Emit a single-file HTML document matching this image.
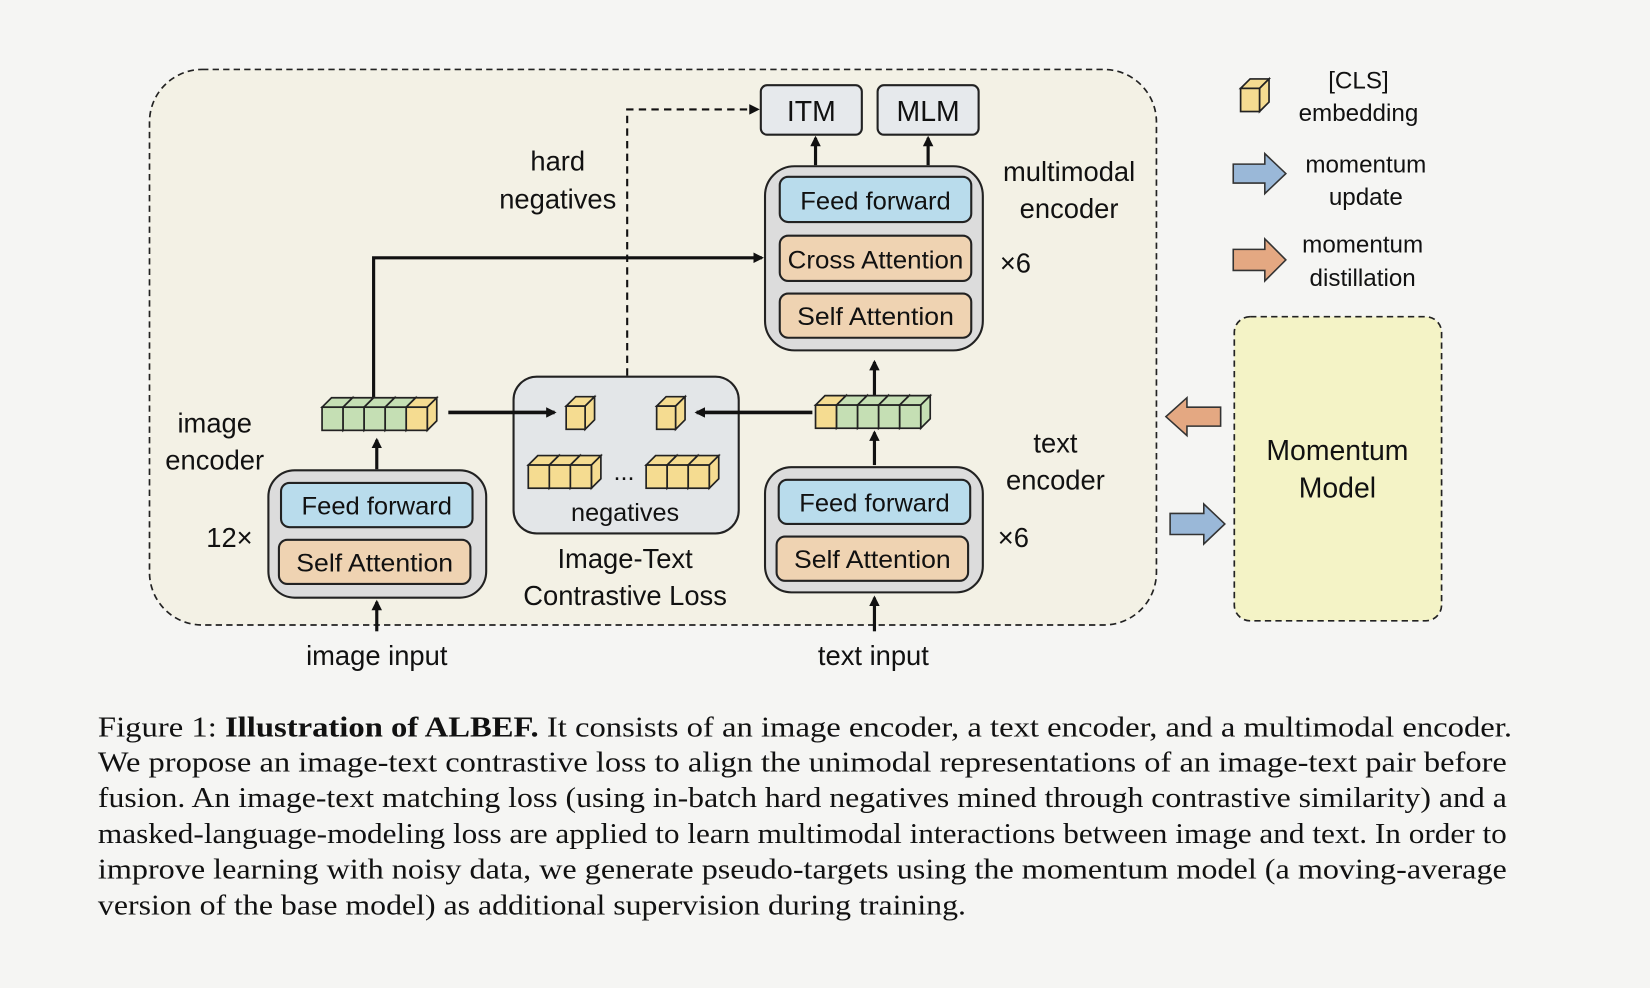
<!DOCTYPE html>
<html><head><meta charset="utf-8"><style>
html,body{margin:0;padding:0;background:#f5f5f3;}
svg{display:block}
.l{font-family:"Liberation Sans",sans-serif;font-size:24px;fill:#111;text-anchor:middle}
.c{font-family:"Liberation Serif",serif;font-size:27px;fill:#111}
</style></head><body>
<svg id="s" width="1650" height="988" viewBox="0 0 1568 939" xmlns="http://www.w3.org/2000/svg">
<defs>
<marker id="a" markerWidth="10" markerHeight="10" refX="8" refY="5" orient="auto" markerUnits="userSpaceOnUse"><path d="M0,0 L10,5 L0,10 Z" fill="#111"/></marker>
</defs>
<rect width="1568" height="939" fill="#f5f5f3"/>
<rect x="142" y="66" width="957" height="528" rx="50" fill="#f3f1e5" stroke="#222" stroke-width="1.6" stroke-dasharray="6,4"/>
<rect x="723" y="81" width="96" height="47" rx="6" fill="#e6e9ec" stroke="#222" stroke-width="2"/>
<rect x="834" y="81" width="96" height="47" rx="6" fill="#e6e9ec" stroke="#222" stroke-width="2"/>
<text class="l" x="771" y="115" style="font-size:27px">ITM</text>
<text class="l" x="882" y="115" style="font-size:27px">MLM</text>
<rect x="727" y="158" width="207" height="175" rx="28" fill="#dcdcdc" stroke="#222" stroke-width="2"/>
<rect x="741" y="168" width="182" height="43" rx="8" fill="#b9dcec" stroke="#222" stroke-width="2"/>
<rect x="741" y="224" width="182" height="43" rx="8" fill="#efd3b2" stroke="#222" stroke-width="2"/>
<rect x="741" y="279" width="182" height="42" rx="8" fill="#efd3b2" stroke="#222" stroke-width="2"/>
<text class="l" x="832" y="199" textLength="143" lengthAdjust="spacingAndGlyphs">Feed forward</text>
<text class="l" x="832" y="255" textLength="167" lengthAdjust="spacingAndGlyphs">Cross Attention</text>
<text class="l" x="832" y="309" textLength="149" lengthAdjust="spacingAndGlyphs">Self Attention</text>
<line x1="775" y1="157" x2="775" y2="131" stroke="#111" stroke-width="3" marker-end="url(#a)"/>
<line x1="882" y1="157" x2="882" y2="131" stroke="#111" stroke-width="3" marker-end="url(#a)"/>
<text class="l" x="1016" y="172" style="font-size:26px">multimodal</text>
<text class="l" x="1016" y="207" style="font-size:26px">encoder</text>
<text class="l" x="965" y="259" style="font-size:26px">×6</text>
<text class="l" x="530" y="162" style="font-size:26px">hard</text>
<text class="l" x="530" y="198" style="font-size:26px">negatives</text>
<polyline points="596,357 596,104 720,104" fill="none" stroke="#111" stroke-width="2" stroke-dasharray="7,5" marker-end="url(#a)"/>
<polyline points="355,388 355,245 724,245" fill="none" stroke="#111" stroke-width="3" marker-end="url(#a)"/>
<line x1="358" y1="446" x2="358" y2="418" stroke="#111" stroke-width="3" marker-end="url(#a)"/>
<rect x="255" y="447" width="207" height="121" rx="25" fill="#dcdcdc" stroke="#222" stroke-width="2"/>
<rect x="267" y="459" width="182" height="42" rx="8" fill="#b9dcec" stroke="#222" stroke-width="2"/>
<rect x="265" y="513" width="182" height="42" rx="8" fill="#efd3b2" stroke="#222" stroke-width="2"/>
<text class="l" x="358" y="489" textLength="143" lengthAdjust="spacingAndGlyphs">Feed forward</text>
<text class="l" x="356" y="543" textLength="149" lengthAdjust="spacingAndGlyphs">Self Attention</text>
<text class="l" x="204" y="411" style="font-size:26px">image</text>
<text class="l" x="204" y="446" style="font-size:26px">encoder</text>
<text class="l" x="218" y="520" style="font-size:26px">12×</text>
<line x1="358" y1="600" x2="358" y2="572" stroke="#111" stroke-width="3" marker-end="url(#a)"/>
<text class="l" x="358" y="632" style="font-size:26px">image input</text>
<rect x="488" y="358" width="214" height="149" rx="22" fill="#e3e6e8" stroke="#222" stroke-width="2"/>
<line x1="426" y1="392" x2="527" y2="392" stroke="#111" stroke-width="3.5" marker-end="url(#a)"/>
<line x1="772" y1="392" x2="662" y2="392" stroke="#111" stroke-width="3.5" marker-end="url(#a)"/>
<text class="l" x="593" y="456">...</text>
<text class="l" x="594" y="495">negatives</text>
<text class="l" x="594" y="540" style="font-size:26px">Image-Text</text>
<text class="l" x="594" y="575" style="font-size:26px">Contrastive Loss</text>
<line x1="831" y1="378" x2="831" y2="344" stroke="#111" stroke-width="3" marker-end="url(#a)"/>
<line x1="831" y1="442" x2="831" y2="411" stroke="#111" stroke-width="3" marker-end="url(#a)"/>
<rect x="727" y="444" width="207" height="119" rx="25" fill="#dcdcdc" stroke="#222" stroke-width="2"/>
<rect x="740" y="456" width="182" height="42" rx="8" fill="#b9dcec" stroke="#222" stroke-width="2"/>
<rect x="738" y="510" width="182" height="42" rx="8" fill="#efd3b2" stroke="#222" stroke-width="2"/>
<text class="l" x="831" y="486" textLength="143" lengthAdjust="spacingAndGlyphs">Feed forward</text>
<text class="l" x="829" y="540" textLength="149" lengthAdjust="spacingAndGlyphs">Self Attention</text>
<text class="l" x="1003" y="430" style="font-size:26px">text</text>
<text class="l" x="1003" y="465" style="font-size:26px">encoder</text>
<text class="l" x="963" y="520" style="font-size:26px">×6</text>
<line x1="831" y1="600" x2="831" y2="568" stroke="#111" stroke-width="3" marker-end="url(#a)"/>
<text class="l" x="830" y="632" style="font-size:26px">text input</text>
<text class="l" x="1291" y="84" style="font-size:23px">[CLS]</text>
<text class="l" x="1291" y="115" style="font-size:23px">embedding</text>
<text class="l" x="1298" y="164" style="font-size:23px">momentum</text>
<text class="l" x="1298" y="195" style="font-size:23px">update</text>
<text class="l" x="1295" y="240" style="font-size:23px">momentum</text>
<text class="l" x="1295" y="272" style="font-size:23px">distillation</text>
<polygon points="1172,156 1202,156 1202,146 1222,165 1202,184 1202,174 1172,174" fill="#9ab8d8" stroke="#333" stroke-width="1.5"/>
<polygon points="1172,237 1202,237 1202,227 1222,247 1202,267 1202,257 1172,257" fill="#e4a882" stroke="#333" stroke-width="1.5"/>
<polygon points="1160,387 1128,387 1128,378 1108,396 1128,414 1128,405 1160,405" fill="#e4a882" stroke="#333" stroke-width="1.5"/>
<polygon points="1112,488 1144,488 1144,479 1164,498 1144,517 1144,508 1112,508" fill="#9ab8d8" stroke="#333" stroke-width="1.5"/>
<rect x="1173" y="301" width="197" height="289" rx="15" fill="#f4f3c6" stroke="#222" stroke-width="1.6" stroke-dasharray="6,4"/>
<text class="l" x="1271" y="437" style="font-size:27px">Momentum</text>
<text class="l" x="1271" y="473" style="font-size:27px">Model</text>
<text class="c" x="93" y="700" textLength="1344" lengthAdjust="spacingAndGlyphs">Figure 1: <tspan font-weight="bold">Illustration of ALBEF.</tspan> It consists of an image encoder, a text encoder, and a multimodal encoder.</text>
<text class="c" x="93" y="733" textLength="1339" lengthAdjust="spacingAndGlyphs">We propose an image-text contrastive loss to align the unimodal representations of an image-text pair before</text>
<text class="c" x="93" y="767" textLength="1339" lengthAdjust="spacingAndGlyphs">fusion. An image-text matching loss (using in-batch hard negatives mined through contrastive similarity) and a</text>
<text class="c" x="93" y="801" textLength="1339" lengthAdjust="spacingAndGlyphs">masked-language-modeling loss are applied to learn multimodal interactions between image and text. In order to</text>
<text class="c" x="93" y="835" textLength="1339" lengthAdjust="spacingAndGlyphs">improve learning with noisy data, we generate pseudo-targets using the momentum model (a moving-average</text>
<text class="c" x="93" y="869" textLength="825" lengthAdjust="spacingAndGlyphs">version of the base model) as additional supervision during training.</text>
<g id="cubes"></g>
</svg>
<script>
var g=document.getElementById('cubes'),NS='http://www.w3.org/2000/svg';
var Y='#f5dc91',G='#c5dfb4';
function poly(a,c){var e=document.createElementNS(NS,'polygon');e.setAttribute('points',a.join(' '));e.setAttribute('fill',c);e.setAttribute('stroke','#222');e.setAttribute('stroke-width','1.6');g.appendChild(e);}
function cube(x,y,w,h,d,c){
 poly([x,y,x+d,y-d,x+w+d,y-d,x+w,y],c);
 poly([x+w,y,x+w+d,y-d,x+w+d,y+h-d,x+w,y+h],c);
 var r=document.createElementNS(NS,'rect');r.setAttribute('x',x);r.setAttribute('y',y);r.setAttribute('width',w);r.setAttribute('height',h);r.setAttribute('fill',c);r.setAttribute('stroke','#222');r.setAttribute('stroke-width','1.6');g.appendChild(r);
}
function row(x,y,cols,w,h,d){for(var i=0;i<cols.length;i++)cube(x+i*w,y,w,h,d,cols[i]);}
row(306,387,[G,G,G,G,Y],20,22,9);
row(775,385,[Y,G,G,G,G],20,22,9);
cube(538,386,18,22,9,Y);cube(624,386,18,22,9,Y);
row(502,442,[Y,Y,Y],20,22,9);
row(614,442,[Y,Y,Y],20,22,9);
cube(1179,84,18,22,9,Y);
</script>
</body></html>
